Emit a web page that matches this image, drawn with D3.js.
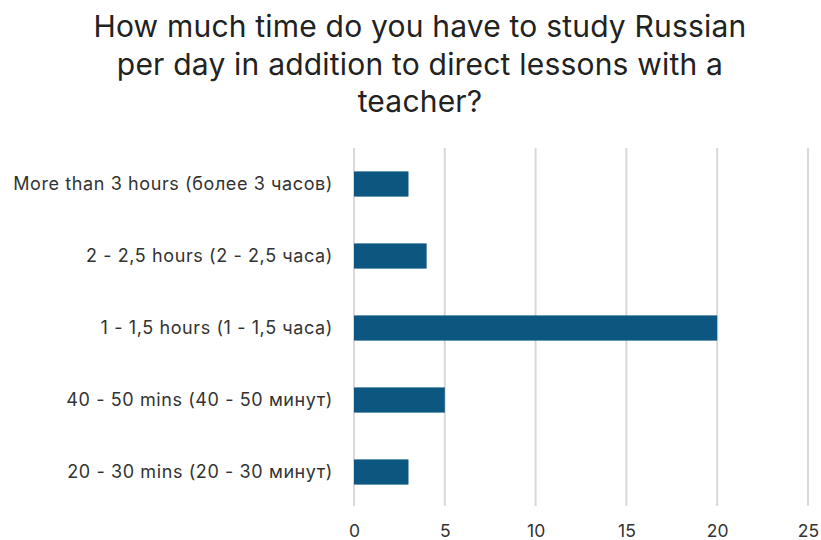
<!DOCTYPE html>
<html>
<head>
<meta charset="utf-8">
<script src="https://cdn.jsdelivr.net/npm/d3@7"></script>
<style>
  body { margin: 0; background: #fff; }
  text { font-family: Inter, "Noto Sans", sans-serif; fill: #333; }
</style>
</head>
<body>
<div id="chart"></div>
<script>
const categories = [
  "More than 3 hours (более 3 часов)",
  "2 - 2,5 hours (2 - 2,5 часа)",
  "1 - 1,5 hours (1 - 1,5 часа)",
  "40 - 50 mins (40 - 50 минут)",
  "20 - 30 mins (20 - 30 минут)"
];
const values = [3, 4, 20, 5, 3];
const ticks = [0, 5, 10, 15, 20, 25];
const titleLines = [
  "How much time do you have to study Russian",
  "per day in addition to direct lessons with a",
  "teacher?"
];

const width = 821, height = 540;
const svg = d3.select("#chart").append("svg")
  .attr("width", width)
  .attr("height", height);

// title
svg.selectAll(".title")
  .data(titleLines)
  .enter()
  .append("text")
  .attr("class", "title")
  .attr("x", 420)
  .attr("y", (d, i) => 37 + i * 37.5)
  .attr("text-anchor", "middle")
  .style("font-size", "30px")
  .style("letter-spacing", "0.2px")
  .style("fill", "#222")
  .text(d => d);

const x = d3.scaleLinear().domain([0, 25]).range([354, 808]);
const y = d3.scaleBand().domain(categories).range([148, 508]).paddingInner(0.65).paddingOuter(0.325);

// gridlines
svg.selectAll(".grid")
  .data(ticks)
  .enter()
  .append("line")
  .attr("class", "grid")
  .attr("x1", d => x(d))
  .attr("x2", d => x(d))
  .attr("y1", 148)
  .attr("y2", 506)
  .style("stroke", "#d9d9d9")
  .style("stroke-width", 2);

// bars
svg.selectAll(".bar")
  .data(values)
  .enter()
  .append("rect")
  .attr("class", "bar")
  .attr("x", x(0))
  .attr("y", (d, i) => y(categories[i]))
  .attr("width", d => x(d) - x(0))
  .attr("height", y.bandwidth())
  .attr("fill", "#0b5780");

// x axis labels
const xAxis = d3.axisBottom(x).tickValues(ticks).tickSize(0).tickPadding(0);
const gx = svg.append("g")
  .attr("transform", "translate(0, 525)")
  .call(xAxis);
gx.select(".domain").remove();
gx.selectAll("text")
  .attr("dy", "0.71em")
  .style("font-size", "17.5px")
  .style("fill", "#333");

// y axis labels
const yAxis = d3.axisLeft(y).tickSize(0).tickPadding(0);
const gy = svg.append("g")
  .attr("transform", "translate(333, 0)")
  .call(yAxis);
gy.select(".domain").remove();
gy.selectAll("text")
  .style("font-size", "18px")
  .style("letter-spacing", "0.6px")
  .style("fill", "#333");
</script>
</body>
</html>
